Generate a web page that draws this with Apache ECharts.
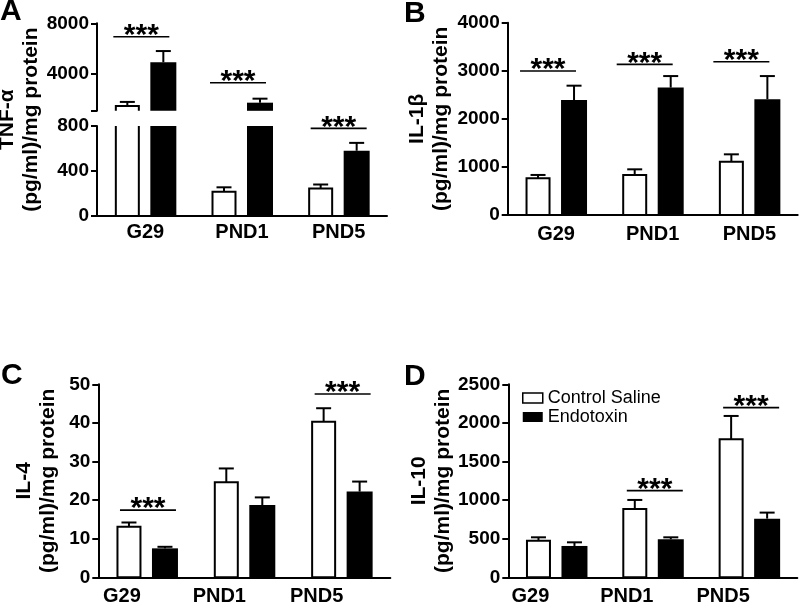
<!DOCTYPE html>
<html><head><meta charset="utf-8">
<script src="https://cdn.jsdelivr.net/npm/echarts@6/dist/echarts.min.js"></script>
<style>html,body{margin:0;padding:0;background:#fff}#c{width:800px;height:606px}</style>
</head><body><div id="c"></div>
<script>
// ---------- data ----------
const categories = ['G29', 'PND1', 'PND5'];
// Panel A: TNF-alpha (broken axis)
const tnfControl = [1390, 215, 245];
const tnfControlSem = [320, 40, 35];
const tnfEndo = [4880, 1650, 580];
const tnfEndoSem = [900, 320, 70];
const tnfSig = [6930, 3250, 779];
const tnfUpperLabels = [4000, 8000];
const tnfUpperTicks = [1000, 4000, 8000];
// Panel B: IL-1beta
const il1bControl = [763, 832, 1109];
const il1bControlSem = [70, 118, 153];
const il1bEndo = [2390, 2650, 2410];
const il1bEndoSem = [300, 240, 480];
const il1bSig = [2995, 3133, 3189];
// Panel C: IL-4
const il4Control = [13.1, 24.6, 40.3];
const il4ControlSem = [1.1, 3.6, 3.5];
const il4Endo = [7.5, 18.7, 22.2];
const il4EndoSem = [0.4, 2.0, 2.6];
const il4Sig = [17.4, null, 47.5];
// Panel D: IL-10
const il10Control = [475, 885, 1788];
const il10ControlSem = [43, 117, 302];
const il10Endo = [406, 492, 760];
const il10EndoSem = [47, 26, 78];
const il10Sig = [null, 1123, 2198];

const seriesNames = ['Control Saline', 'Endotoxin'];

// ---------- rendering helpers ----------
const FONT = '"Liberation Sans", Arial, Helvetica, sans-serif';
const OFF = 18, BWC = 23, BWE = 26, CAP = 15;

function barItem(offset, width, fill, stroke) {
  return function (params, api) {
    const cs = params.coordSys;
    const cat = api.value(0), v = api.value(1);
    const top = api.coord([cat, v]);
    const base = api.coord([cat, 0]);
    const cx = top[0] + offset;
    const gTop = cs.y, gBot = cs.y + cs.height;
    let y0 = top[1], y1 = base[1];
    const topOpen = y0 < gTop - 0.5, botOpen = y1 > gBot + 0.5;
    y0 = Math.max(y0, gTop); y1 = Math.min(y1, gBot);
    if (y1 - y0 <= 0.5) return null;
    const x0 = cx - width / 2, x1 = cx + width / 2;
    const children = [{ type: 'rect', shape: { x: x0, y: y0, width: width, height: y1 - y0 }, style: { fill: fill } }];
    if (stroke) {
      const st = { stroke: '#000', lineWidth: 2, fill: null };
      if (!topOpen && !botOpen) {
        children.push({ type: 'polygon', shape: { points: [[x0, y1], [x0, y0], [x1, y0], [x1, y1]] }, style: st });
      } else if (!topOpen) {
        children.push({ type: 'polyline', shape: { points: [[x0, y1], [x0, y0], [x1, y0], [x1, y1]] }, style: st });
      } else if (!botOpen) {
        children.push({ type: 'polyline', shape: { points: [[x0, y0], [x0, y1], [x1, y1], [x1, y0]] }, style: st });
      } else {
        children.push({ type: 'line', shape: { x1: x0, y1: y0, x2: x0, y2: y1 }, style: st });
        children.push({ type: 'line', shape: { x1: x1, y1: y0, x2: x1, y2: y1 }, style: st });
      }
    }
    return { type: 'group', children: children };
  };
}

function errItem(offset) {
  return function (params, api) {
    const cs = params.coordSys;
    const cat = api.value(0), m = api.value(1), s = api.value(2);
    const p0 = api.coord([cat, m]);
    const p1 = api.coord([cat, m + s]);
    const gTop = cs.y, gBot = cs.y + cs.height;
    if (p0[1] < gTop - 0.5 || p0[1] > gBot + 0.5) return null;
    const x = p0[0] + offset;
    const yt = Math.max(p1[1], gTop);
    const st = { stroke: '#000', lineWidth: 2 };
    return { type: 'group', children: [
      { type: 'line', shape: { x1: x, y1: p0[1], x2: x, y2: yt }, style: st },
      { type: 'line', shape: { x1: x - CAP / 2, y1: yt, x2: x + CAP / 2, y2: yt }, style: st }
    ] };
  };
}

function sigItem(dx) {
  return function (params, api) {
    const cs = params.coordSys;
    const p = api.coord([api.value(0), api.value(1)]);
    if (p[1] < cs.y - 1 || p[1] > cs.y + cs.height + 1) return null;
    const cx = p[0] + dx;
    return { type: 'group', children: [
      { type: 'line', shape: { x1: cx - 28, y1: p[1], x2: cx + 28, y2: p[1] }, style: { stroke: '#000', lineWidth: 1.6 } },
      { type: 'text', style: { text: '***', x: cx, y: p[1] - 1, align: 'center', verticalAlign: 'middle',
        fontSize: 30, fontWeight: 'bold', fontFamily: FONT, fill: '#000' } }
    ] };
  };
}

const pairs = (vals) => vals.map((v, i) => [i, v]);
const triples = (vals, sems) => vals.map((v, i) => [i, v, sems[i]]);
const sigData = (vals) => vals.map((v, i) => [i, v]).filter(d => d[1] != null);

function panelSeries(gi, ctrl, ctrlSem, endo, endoSem, sig, dx) {
  const base = { type: 'custom', xAxisIndex: gi, yAxisIndex: gi, silent: true };
  const out = [
    Object.assign({}, base, { name: seriesNames[0], renderItem: barItem(-OFF, BWC, '#fff', true), data: pairs(ctrl), z: 3 }),
    Object.assign({}, base, { name: seriesNames[1], renderItem: barItem(OFF, BWE, '#000', false), data: pairs(endo), z: 3 }),
    Object.assign({}, base, { renderItem: errItem(-OFF), data: triples(ctrl, ctrlSem), z: 4 }),
    Object.assign({}, base, { renderItem: errItem(OFF), data: triples(endo, endoSem), z: 4 })
  ];
  if (sig) out.push(Object.assign({}, base, { renderItem: sigItem(dx), data: sigData(sig), z: 4 }));
  return out;
}

const axisLine = { show: true, lineStyle: { color: '#000', width: 2 } };
const yLabel = { color: '#000', fontFamily: FONT, fontSize: 19, fontWeight: 'bold', margin: 8, formatter: v => String(v) };
const yTick = { show: true, length: 6, lineStyle: { color: '#000', width: 2 } };
const nameStyle = { color: '#000', fontFamily: FONT, fontSize: 21, fontWeight: 'bold', lineHeight: 24 };

function xAx(gi, show, margin, pad) {
  return {
    type: 'category', gridIndex: gi, data: categories, show: show,
    axisLine: axisLine, axisTick: { show: false }, splitLine: { show: false },
    axisLabel: { color: '#000', fontFamily: FONT, fontSize: 20, fontWeight: 'bold', margin: margin, padding: pad || 0 }
  };
}
function yAx(gi, min, max, interval, extra) {
  return Object.assign({
    type: 'value', gridIndex: gi, min: min, max: max, interval: interval,
    axisLine: axisLine, axisTick: yTick, axisLabel: yLabel, splitLine: { show: false }
  }, extra || {});
}
function named(name, gap) {
  return { name: name, nameLocation: 'middle', nameRotate: 90, nameGap: gap, nameTextStyle: nameStyle, nameMoveOverlap: false };
}

const grids = [
  { left: 97, width: 290, top: 23.3, height: 87.5 },   // A upper
  { left: 97, width: 290, top: 126, height: 90 },      // A lower
  { left: 97, width: 290, top: 23.3, height: 192.7 },  // A name holder
  { left: 507.7, width: 290, top: 22.7, height: 192.3 }, // B
  { left: 98.3, width: 292, top: 384.3, height: 193 },  // C
  { left: 508.3, width: 289, top: 384.3, height: 193 }  // D
].map(g => Object.assign({ outerBoundsMode: 'none', containLabel: false }, g));

const titleStyle = { fontSize: 30, fontWeight: 'bold', fontFamily: FONT, color: '#000' };

const option = {
  backgroundColor: '#fff',
  animation: false,
  title: [
    { text: 'A', left: 0, top: -3, padding: 0, textStyle: titleStyle },
    { text: 'B', left: 404, top: -1, padding: 0, textStyle: titleStyle },
    { text: 'C', left: 1, top: 361, padding: 0, textStyle: titleStyle },
    { text: 'D', left: 404, top: 362, padding: 0, textStyle: titleStyle }
  ],
  legend: {
    left: 522, top: 389, orient: 'vertical', itemWidth: 20, itemHeight: 10, itemGap: 1,
    selectedMode: false, padding: 0,
    textStyle: { fontFamily: FONT, fontSize: 18, color: '#000' },
    data: [
      { name: seriesNames[0], icon: 'rect', itemStyle: { color: '#fff', borderColor: '#000', borderWidth: 1.5 } },
      { name: seriesNames[1], icon: 'rect', itemStyle: { color: '#000', borderWidth: 0 } }
    ]
  },
  grid: grids,
  xAxis: [
    xAx(0, false, 6),
    xAx(1, true, 6),
    xAx(2, false, 6),
    xAx(3, true, 9),
    xAx(4, true, 9, [0, 50, 0, 0]),
    xAx(5, true, 9, [0, 52, 0, 0])
  ],
  yAxis: [
    yAx(0, 1000, 8000, 1000, { axisLabel: Object.assign({}, yLabel, { customValues: tnfUpperLabels }),
      axisTick: Object.assign({}, yTick, { customValues: tnfUpperTicks }) }),
    yAx(1, 0, 800, 400),
    yAx(2, 0, 1, 1, Object.assign({ axisLine: { show: false }, axisTick: { show: false }, axisLabel: { show: false } },
      named('TNF-α\n(pg/ml)/mg protein', 54))),
    yAx(3, 0, 4000, 1000, named('IL-1β\n(pg/ml)/mg protein', 54)),
    yAx(4, 0, 50, 10, named('IL-4\n(pg/ml)/mg protein', 38)),
    yAx(5, 0, 2500, 500, named('IL-10\n(pg/ml)/mg protein', 53))
  ],
  series: [].concat(
    panelSeries(0, tnfControl, tnfControlSem, tnfEndo, tnfEndoSem, tnfSig, -4),
    panelSeries(1, tnfControl, tnfControlSem, tnfEndo, tnfEndoSem, tnfSig, 0),
    panelSeries(3, il1bControl, il1bControlSem, il1bEndo, il1bEndoSem, il1bSig, -8),
    panelSeries(4, il4Control, il4ControlSem, il4Endo, il4EndoSem, il4Sig, 1),
    panelSeries(5, il10Control, il10ControlSem, il10Endo, il10EndoSem, il10Sig, 2)
  )
};

const chart = echarts.init(document.getElementById('c'), null, { renderer: 'canvas' });
chart.setOption(option);
</script>
</body></html>
